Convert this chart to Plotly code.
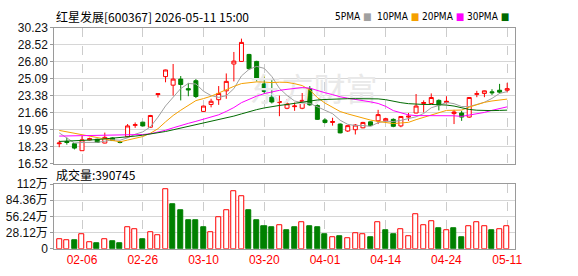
import plotly.graph_objects as go

# ---------------- data ----------------
dates = ["02-03","02-04","02-05","02-06","02-09","02-10","02-11","02-12","02-13","02-24",
         "02-25","02-26","02-27","03-02","03-03","03-04","03-05","03-06","03-09","03-10",
         "03-11","03-12","03-13","03-16","03-17","03-18","03-19","03-20","03-23","03-24",
         "03-25","03-26","03-27","03-30","03-31","04-01","04-02","04-03","04-07","04-08",
         "04-09","04-10","04-13","04-14","04-15","04-16","04-17","04-20","04-21","04-22",
         "04-23","04-24","04-27","04-28","04-29","04-30","05-06","05-07","05-08","05-11"]

open_ = [18.55,18.78,18.55,17.85,18.94,19.00,18.62,19.13,18.75,19.25,
         20.40,20.72,20.21,23.50,25.30,24.44,25.05,24.09,24.89,21.80,
         22.50,22.98,23.87,26.57,26.83,27.53,26.83,24.57,23.23,22.69,
         22.12,22.28,22.12,24.09,22.40,20.94,20.69,20.53,19.83,19.96,
         20.15,20.75,20.85,20.85,21.00,20.34,21.23,21.64,22.60,22.60,
         22.91,22.69,21.58,21.64,21.23,23.52,23.61,23.77,23.93,23.93]
high = [18.87,19.16,18.62,19.32,19.16,19.06,19.67,19.19,18.81,20.53,
        20.69,20.75,21.45,23.58,26.00,26.57,25.36,24.67,25.05,22.37,
        23.07,24.35,25.62,27.78,29.12,27.59,26.89,25.46,24.98,23.39,
        23.01,22.69,23.65,24.35,22.50,21.10,21.16,20.59,20.40,20.53,
        20.75,20.78,21.96,21.16,21.10,21.32,21.64,23.55,22.91,23.61,
        23.01,23.33,21.96,21.86,23.23,23.87,23.90,24.03,24.57,24.67]
low = [18.20,18.46,17.98,17.85,18.87,18.65,18.59,18.84,18.59,19.19,
       20.15,20.30,20.15,23.20,24.73,23.39,22.91,23.33,23.14,21.77,
       22.21,22.46,23.07,24.82,26.80,26.00,24.82,23.55,22.60,21.32,
       22.02,21.86,22.02,22.37,20.94,20.59,20.37,19.60,19.73,19.48,
       20.11,20.34,20.53,20.81,20.21,20.21,20.85,21.61,21.70,22.56,
       21.90,22.60,20.53,20.85,21.16,23.23,23.23,23.46,23.61,23.71]
close = [18.62,18.68,18.11,18.94,19.06,18.68,19.19,18.87,18.68,20.34,
         20.46,20.34,21.39,23.58,25.97,25.05,24.51,23.96,23.30,22.34,
         22.82,23.61,24.82,26.86,28.74,26.10,25.14,23.80,22.75,22.79,
         22.56,22.34,22.91,22.46,21.00,20.69,20.78,19.64,20.37,20.43,
         20.69,20.37,21.48,21.07,20.30,21.29,21.32,22.34,22.69,23.20,
         22.46,22.82,21.74,21.23,23.20,23.58,23.87,23.68,23.74,24.09]

# volume in 万 (10k)
volume = [17.2,15.6,14.0,24.7,11.8,9.1,16.7,12.9,9.1,38.2,
          33.3,17.2,28.0,23.7,102.7,77.4,66.1,50.0,50.0,38.2,
          28.0,54.3,66.7,100.5,90.9,67.2,50.0,39.8,36.6,40.9,
          31.7,36.6,46.2,39.8,36.6,24.7,20.4,22.0,18.3,26.3,
          24.7,20.4,46.2,31.7,24.7,33.3,22.0,60.8,40.9,47.9,
          35.5,31.7,35.5,19.4,39.8,46.2,39.8,31.7,33.3,39.0745]

ma5 = [19.64,19.10,18.62,18.68,18.68,18.69,18.80,18.95,18.90,19.15,
       19.51,19.74,20.24,21.22,22.35,23.27,24.10,24.61,24.56,23.83,
       23.39,23.21,23.38,24.09,25.37,26.03,26.33,26.13,25.31,24.12,
       23.41,22.85,22.67,22.61,22.25,21.88,21.57,20.91,20.50,20.38,
       20.38,20.30,20.67,20.81,20.78,20.90,21.09,21.26,21.59,22.17,
       22.40,22.70,22.58,22.29,22.29,22.51,22.72,23.11,23.61,23.79]
ma10 = [19.89,19.75,19.60,19.45,19.30,19.15,19.00,18.85,18.74,18.92,
        19.10,19.27,19.60,20.06,20.75,21.39,21.92,22.43,22.89,23.09,
        23.33,23.65,24.00,24.32,24.60,24.71,24.77,24.75,24.70,24.74,
        24.72,24.59,24.40,23.96,23.19,22.64,22.21,21.79,21.55,21.32,
        21.13,20.93,20.79,20.65,20.58,20.64,20.70,20.97,21.20,21.48,
        21.65,21.90,21.92,21.94,22.23,22.46,22.71,22.85,22.95,23.04]
ma20 = [19.32,19.33,19.34,19.36,19.37,19.38,19.38,19.38,19.38,19.40,
        19.42,19.48,19.55,19.70,19.90,20.15,20.40,20.60,20.80,21.00,
        21.21,21.46,21.80,22.19,22.68,23.05,23.34,23.59,23.79,23.92,
        24.02,24.12,24.20,24.14,23.89,23.68,23.49,23.27,23.13,23.03,
        22.92,22.76,22.60,22.31,21.88,21.64,21.45,21.38,21.38,21.40,
        21.39,21.42,21.36,21.30,21.41,21.55,21.70,21.91,22.08,22.26]
ma30 = [18.78,18.80,18.83,18.87,18.92,18.97,19.03,19.10,19.17,19.25,
        19.32,19.41,19.51,19.63,19.78,19.95,20.12,20.30,20.45,20.60,
        20.75,20.93,21.12,21.33,21.55,21.78,21.98,22.15,22.30,22.40,
        22.50,22.62,22.76,22.88,22.95,23.00,23.04,23.05,23.08,23.08,
        23.08,23.07,23.06,22.98,22.80,22.68,22.58,22.52,22.50,22.50,
        22.48,22.44,22.34,22.16,22.00,21.92,21.88,21.88,21.90,21.93]

tick_labels = ["02-06","02-26","03-10","03-20","04-01","04-14","04-24","05-11"]
price_ticks = [16.52,18.23,19.95,21.66,23.38,25.09,26.80,28.52,30.23]
vol_ticks = [0,28.12,56.24,84.36,112]
vol_ticktext = ["0","28.12万","56.24万","84.36万","112万"]

title_text = "红星发展[600367] 2026-05-11 15:00"
ma_names = ["5PMA","10PMA","20PMA","30PMA"]
ma_colors = ["#a0a0a0","#f5a000","#ff00ff","#006a00"]

# ---------------- figure ----------------
W, H = 578, 276
idx = list(range(len(dates)))
tickvals = [dates.index(t) for t in tick_labels]

UP, DOWN = "#ff0000", "#008000"

fig = go.Figure()

# watermark (drawn first so it sits below everything)
fig.add_trace(go.Scatter(x=[33.5], y=[23.7], mode="text", text=["东方财富"],
                         textfont=dict(family="Noto Sans CJK SC", size=32, color="#e9e9e9"),
                         hoverinfo="skip", showlegend=False, xaxis="x", yaxis="y"))

fig.add_trace(go.Candlestick(
    x=idx, open=open_, high=high, low=low, close=close,
    increasing=dict(line=dict(color=UP, width=1), fillcolor="#ffffff"),
    decreasing=dict(line=dict(color=DOWN, width=1), fillcolor=DOWN),
    whiskerwidth=0, showlegend=False, hoverinfo="skip", xaxis="x", yaxis="y"))

for vals, col in zip([ma5, ma10, ma20, ma30], ma_colors):
    fig.add_trace(go.Scatter(x=idx, y=vals, mode="lines", line=dict(color=col, width=1),
                             hoverinfo="skip", showlegend=False, xaxis="x", yaxis="y"))

vol_up = [close[0] >= open_[0]] + [close[i] >= close[i-1] for i in range(1, len(close))]
fig.add_trace(go.Bar(
    x=idx, y=volume, width=0.66,
    marker=dict(color=["#ffffff" if u else DOWN for u in vol_up],
                line=dict(color=[UP if u else DOWN for u in vol_up], width=1)),
    hoverinfo="skip", showlegend=False, xaxis="x2", yaxis="y2"))

xdom = [55/W, 522/W]
frame = "#9a9a9a"
xr = [-0.66, 60.0]
common_x = dict(domain=xdom, range=xr, tickvals=tickvals, showgrid=True,
                gridcolor="#cccccc", griddash="dash", gridwidth=1,
                showline=True, mirror=True, linecolor=frame, linewidth=1,
                zeroline=False, fixedrange=True)
label_font = dict(family="Liberation Sans, Arial, Noto Sans CJK SC", size=12, color="#111111")

fig.update_layout(
    width=W, height=H, margin=dict(l=0, r=0, t=0, b=0),
    paper_bgcolor="#ffffff", plot_bgcolor="#ffffff",
    bargap=0, boxgap=0.25,
    xaxis=dict(**common_x, anchor="y", showticklabels=False, ticks="",
               rangeslider=dict(visible=False)),
    xaxis2=dict(**common_x, anchor="y2", showticklabels=True, ticks="",
                ticktext=tick_labels,
                tickfont=dict(family="Liberation Sans, Arial", size=12, color="#ff0000")),
    yaxis=dict(domain=[1-165.3/H, 1-21.7/H], range=[price_ticks[0], price_ticks[-1]],
               tickvals=price_ticks, ticktext=["%.2f" % v for v in price_ticks],
               showgrid=True, gridcolor="#d6d6d6", gridwidth=1,
               ticks="outside", ticklen=3, tickcolor=frame,
               showline=True, mirror=True, linecolor=frame, linewidth=1,
               zeroline=False, tickfont=label_font, fixedrange=True),
    yaxis2=dict(domain=[1-254.7/H, 1-186.7/H], range=[0, 112],
                tickvals=vol_ticks, ticktext=vol_ticktext,
                showgrid=True, gridcolor="#d6d6d6", gridwidth=1,
                ticks="outside", ticklen=3, tickcolor=frame,
                showline=True, mirror=True, linecolor=frame, linewidth=1,
                zeroline=False, tickfont=label_font, fixedrange=True),
    font=dict(family="Noto Sans CJK SC"),
)

ann = []
ann.append(dict(text=title_text, x=55/W, y=1-10/H, xref="paper", yref="paper",
                xanchor="left", yanchor="middle", showarrow=False,
                font=dict(family="Noto Sans CJK SC", size=12, color="#000000")))
leg_x = [338, 380, 426, 472]
for name, col, lx in zip(ma_names, ma_colors, leg_x):
    ann.append(dict(text="%s <span style='color:%s'>■</span>" % (name, col),
                    x=lx/W, y=1-10/H, xref="paper", yref="paper",
                    xanchor="left", yanchor="middle", showarrow=False,
                    font=dict(family="DejaVu Sans Condensed, DejaVu Sans", size=10, color="#000000")))
ann.append(dict(text="成交量:%d" % round(volume[-1]*10000), x=55/W, y=1-176/H,
                xref="paper", yref="paper", xanchor="left", yanchor="middle", showarrow=False,
                font=dict(family="Noto Sans CJK SC", size=12, color="#000000")))
fig.update_layout(annotations=ann)

fig.write_html("out.html")
